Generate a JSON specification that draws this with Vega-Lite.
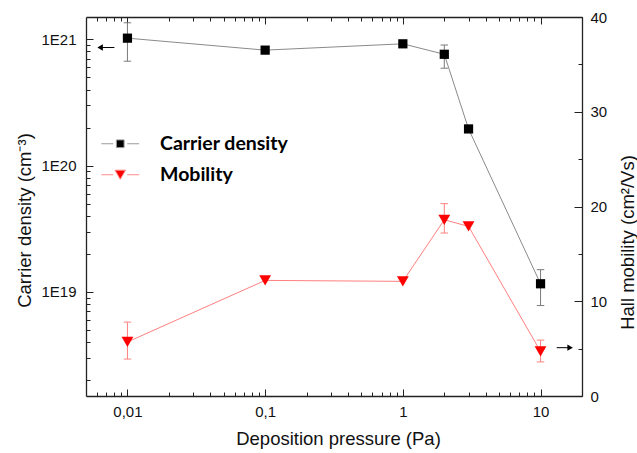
{
  "$schema": "https://vega.github.io/schema/vega-lite/v6.json",
  "width": 496,
  "height": 379,
  "autosize": "none",
  "padding": {"left": 86, "top": 17, "right": 55, "bottom": 57},
  "background": "white",
  "config": {
    "view": {"stroke": null},
    "axis": {
      "labelFont": "Liberation Sans",
      "titleFont": "Liberation Sans",
      "labelFontSize": 15,
      "titleFontSize": 18.5,
      "titleFontWeight": "normal",
      "labelColor": "#111",
      "titleColor": "#111",
      "domainColor": "#222",
      "domainWidth": 1.3,
      "tickColor": "#222",
      "tickWidth": 1,
      "grid": false
    }
  },
  "datasets": {
    "carrier": [
      {"p": 0.01, "n": 1.02e21, "lo": 6.7e20, "hi": 1.35e21},
      {"p": 0.1, "n": 8.2e20},
      {"p": 1, "n": 9.2e20},
      {"p": 2, "n": 7.6e20, "lo": 5.9e20, "hi": 9.0e20},
      {"p": 3, "n": 1.95e20},
      {"p": 10, "n": 1.16e19, "lo": 7.8e18, "hi": 1.5e19}
    ],
    "mobility": [
      {"p": 0.01, "mu": 5.7, "lo": 3.9, "hi": 7.8},
      {"p": 0.1, "mu": 12.2},
      {"p": 1, "mu": 12.1},
      {"p": 2, "mu": 18.6, "lo": 17.2, "hi": 20.3},
      {"p": 3, "mu": 17.9},
      {"p": 10, "mu": 4.7, "lo": 3.6, "hi": 5.9}
    ],
    "arrowLeft": [{"p": 0.00633, "p2": 0.00804, "n": 8.6e20}],
    "arrowRight": [{"p": 16.4, "p2": 13.1, "mu": 5.1}]
  },
  "layer": [
    {
      "encoding": {
        "x": {
          "field": "p",
          "type": "quantitative",
          "scale": {"type": "log", "domain": [0.005, 20]},
          "axis": {
            "orient": "bottom",
            "values": [0.006, 0.007, 0.008, 0.009, 0.01, 0.02, 0.03, 0.04, 0.05, 0.06, 0.07, 0.08, 0.09, 0.1, 0.2, 0.3, 0.4, 0.5, 0.6, 0.7, 0.8, 0.9, 1, 2, 3, 4, 5, 6, 7, 8, 9, 10, 20],
            "tickSize": 7,
            "labelPadding": 1,
            "labelOverlap": false,
            "labelFlush": false,
            "labelExpr": "indexof([0.01,0.1,1,10], datum.value) >= 0 ? replace(format(datum.value, '~g'), '.', ',') : ''",
            "title": "Deposition pressure (Pa)",
            "titleX": 252,
            "titleY": 42,
            "titleAlign": "center",
            "titleBaseline": "middle",
            "titleAngle": 0,
            "encoding": {"ticks": {"y2": {"value": {"expr": "indexof([0.01,0.1,1,10], datum.value) >= 0 ? -7 : -4"}}}}
          }
        },
        "y": {
          "field": "n",
          "type": "quantitative",
          "title": "Carrier density (cm⁻³)",
          "scale": {"type": "log", "domain": [1.5e18, 1.5e21]},
          "axis": {
            "orient": "left",
            "values": [2e18, 3e18, 4e18, 5e18, 6e18, 7e18, 8e18, 9e18, 1e19, 2e19, 3e19, 4e19, 5e19, 6e19, 7e19, 8e19, 9e19, 1e20, 2e20, 3e20, 4e20, 5e20, 6e20, 7e20, 8e20, 9e20, 1e21],
            "tickSize": 7,
            "labelPadding": 3,
            "labelOverlap": false,
            "labelFlush": false,
            "labelExpr": "indexof([1e19,1e20,1e21], datum.value) >= 0 ? replace(format(datum.value, '.0e'), 'e+', 'E') : ''",
            "titleX": -62,
            "titleY": 203,
            "titleAngle": 270,
            "titleAlign": "center",
            "titleBaseline": "middle",
            "encoding": {"ticks": {"x2": {"value": {"expr": "indexof([1e19,1e20,1e21], datum.value) >= 0 ? 7 : 4"}}}}
          }
        }
      },
      "layer": [
        {
          "data": {"name": "carrier"},
          "mark": {"type": "line", "color": "#8a8a8a", "strokeWidth": 1}
        },
        {
          "data": {"name": "carrier"},
          "transform": [{"filter": "isValid(datum.lo)"}],
          "mark": {"type": "rule", "color": "#7a7a7a", "strokeWidth": 1},
          "encoding": {
            "y": {"field": "lo", "type": "quantitative", "title": "Carrier density (cm⁻³)"},
            "y2": {"field": "hi"}
          }
        },
        {
          "data": {"name": "carrier"},
          "transform": [{"filter": "isValid(datum.lo)"}],
          "mark": {"type": "point", "shape": "stroke", "filled": false, "stroke": "#7a7a7a", "strokeWidth": 1, "size": 56, "opacity": 1},
          "encoding": {"y": {"field": "lo", "type": "quantitative", "title": "Carrier density (cm⁻³)"}}
        },
        {
          "data": {"name": "carrier"},
          "transform": [{"filter": "isValid(datum.hi)"}],
          "mark": {"type": "point", "shape": "stroke", "filled": false, "stroke": "#7a7a7a", "strokeWidth": 1, "size": 56, "opacity": 1},
          "encoding": {"y": {"field": "hi", "type": "quantitative", "title": "Carrier density (cm⁻³)"}}
        },
        {
          "data": {"name": "carrier"},
          "mark": {"type": "point", "shape": "square", "filled": true, "size": 85, "opacity": 1},
          "encoding": {
            "color": {
              "datum": "Carrier density",
              "type": "nominal",
              "scale": {"domain": ["Carrier density", "Mobility"], "range": ["#000000", "#ff0000"]},
              "legend": {
                "title": null,
                "orient": "none",
                "legendX": 24.5,
                "legendY": 117,
                "padding": 0,
                "rowPadding": 10,
                "symbolSize": 196,
                "labelFont": "Lato",
                "labelFontWeight": "bold",
                "labelFontSize": 19.5,
                "labelColor": "#000000",
                "labelOffset": 30,
                "labelBaseline": "middle",
                "encoding": {
                  "symbols": {
                    "shape": {"value": {"expr": "datum.value === 'Mobility' ? 'M-2.7,0H-1M1,0H2.7M-0.75,-0.65H0.75L0,0.65Z' : 'M-2.7,0H-1M1,0H2.7M-0.55,-0.55H0.55V0.55H-0.55Z'"}},
                    "stroke": {"value": {"expr": "datum.value === 'Mobility' ? '#ff8a8a' : '#9a9a9a'"}},
                    "strokeWidth": {"value": 1},
                    "opacity": {"value": 1},
                    "size": {"value": 196}
                  }
                }
              }
            }
          }
        },
        {
          "data": {"name": "arrowLeft"},
          "mark": {"type": "rule", "color": "#000000", "strokeWidth": 1},
          "encoding": {"x2": {"field": "p2"}}
        },
        {
          "data": {"name": "arrowLeft"},
          "mark": {"type": "point", "shape": "triangle-left", "filled": true, "color": "#000000", "size": 40, "opacity": 1}
        }
      ]
    },
    {
      "encoding": {
        "x": {
          "field": "p",
          "type": "quantitative",
          "scale": {"type": "log", "domain": [0.005, 20]},
          "axis": {
            "orient": "top",
            "values": [0.006, 0.007, 0.008, 0.009, 0.01, 0.02, 0.03, 0.04, 0.05, 0.06, 0.07, 0.08, 0.09, 0.1, 0.2, 0.3, 0.4, 0.5, 0.6, 0.7, 0.8, 0.9, 1, 2, 3, 4, 5, 6, 7, 8, 9, 10, 20],
            "labels": false,
            "title": null,
            "tickSize": 7,
            "encoding": {"ticks": {"y2": {"value": {"expr": "indexof([0.01,0.1,1,10], datum.value) >= 0 ? 7 : 4"}}}}
          }
        },
        "y": {
          "field": "mu",
          "type": "quantitative",
          "title": "Hall mobility (cm²/Vs)",
          "scale": {"type": "linear", "domain": [0, 40], "nice": false, "zero": false},
          "axis": {
            "orient": "right",
            "values": [0, 5, 10, 15, 20, 25, 30, 35, 40],
            "tickSize": 7,
            "labelPadding": 1,
            "labelOverlap": false,
            "labelFlush": false,
            "labelExpr": "datum.value % 10 == 0 ? datum.label : ''",
            "titleX": 45,
            "titleY": 225,
            "titleAngle": 270,
            "titleAlign": "center",
            "titleBaseline": "middle",
            "encoding": {"ticks": {"x2": {"value": {"expr": "datum.value % 10 == 0 ? -8 : -4"}}}}
          }
        }
      },
      "layer": [
        {
          "data": {"name": "mobility"},
          "mark": {"type": "line", "color": "#ff8080", "strokeWidth": 1}
        },
        {
          "data": {"name": "mobility"},
          "transform": [{"filter": "isValid(datum.lo)"}],
          "mark": {"type": "rule", "color": "#ff8080", "strokeWidth": 1},
          "encoding": {
            "y": {"field": "lo", "type": "quantitative", "title": "Hall mobility (cm²/Vs)"},
            "y2": {"field": "hi"}
          }
        },
        {
          "data": {"name": "mobility"},
          "transform": [{"filter": "isValid(datum.lo)"}],
          "mark": {"type": "point", "shape": "stroke", "filled": false, "stroke": "#ff8080", "strokeWidth": 1, "size": 56, "opacity": 1},
          "encoding": {"y": {"field": "lo", "type": "quantitative", "title": "Hall mobility (cm²/Vs)"}}
        },
        {
          "data": {"name": "mobility"},
          "transform": [{"filter": "isValid(datum.hi)"}],
          "mark": {"type": "point", "shape": "stroke", "filled": false, "stroke": "#ff8080", "strokeWidth": 1, "size": 56, "opacity": 1},
          "encoding": {"y": {"field": "hi", "type": "quantitative", "title": "Hall mobility (cm²/Vs)"}}
        },
        {
          "data": {"name": "mobility"},
          "mark": {"type": "point", "shape": "triangle-down", "filled": true, "size": 140, "opacity": 1},
          "encoding": {
            "color": {
              "datum": "Mobility",
              "type": "nominal",
              "scale": {"domain": ["Carrier density", "Mobility"], "range": ["#000000", "#ff0000"]}
            }
          }
        },
        {
          "data": {"name": "arrowRight"},
          "mark": {"type": "rule", "color": "#000000", "strokeWidth": 1},
          "encoding": {"x2": {"field": "p2"}}
        },
        {
          "data": {"name": "arrowRight"},
          "mark": {"type": "point", "shape": "triangle-right", "filled": true, "color": "#000000", "size": 40, "opacity": 1}
        }
      ]
    }
  ],
  "resolve": {
    "scale": {"y": "independent"},
    "axis": {"x": "independent", "y": "independent"}
  }
}
